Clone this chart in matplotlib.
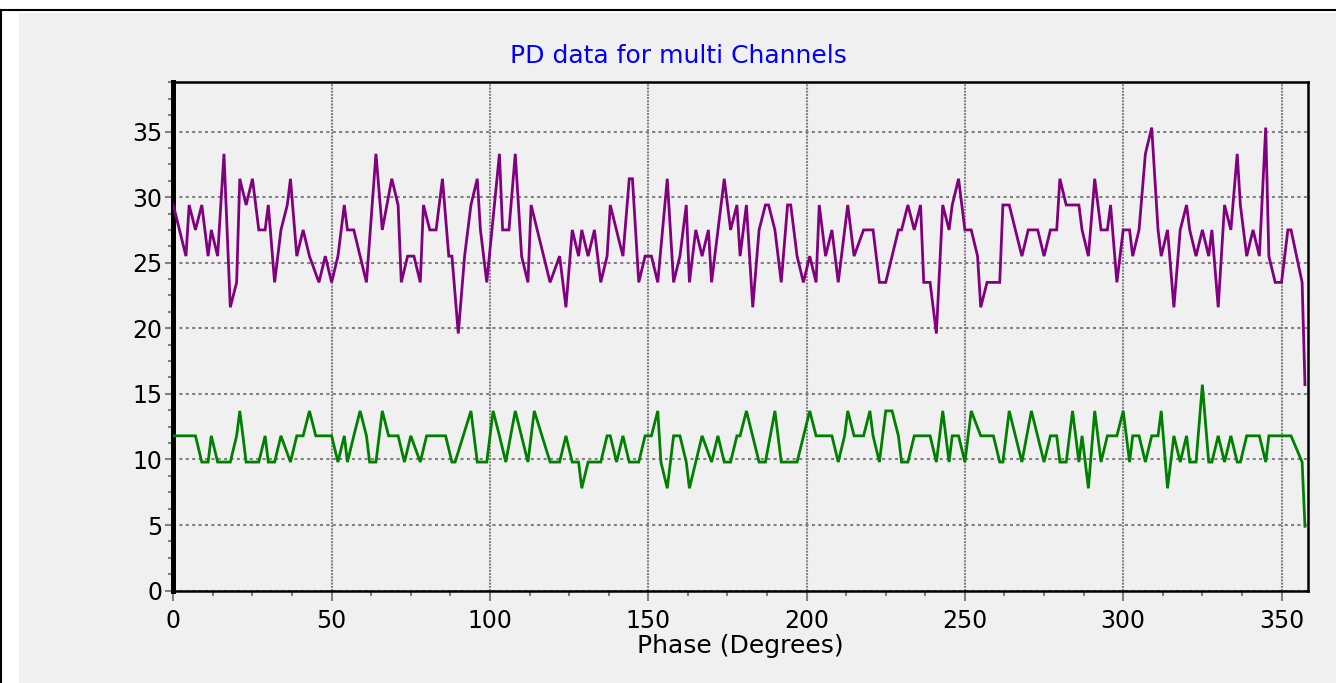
import matplotlib
matplotlib.use('Agg')
import matplotlib.pyplot as plt
from matplotlib.ticker import MultipleLocator
from matplotlib.lines import Line2D
from matplotlib.patches import Rectangle

plt.rcParams['font.family'] = ['DejaVu Sans']
plt.rcParams['lines.scale_dashes'] = False

# vertices of the two traces (phase in degrees, PD value)
phase_purple = [0, 4, 5, 7, 9, 11, 12, 14, 16, 18, 20, 21, 23, 25, 27, 29, 30, 32, 34, 36,
                37, 39, 41, 43, 46, 48, 50, 52, 54, 55, 57, 59, 61, 64, 66,
                69, 71, 72, 74, 76, 78, 79, 81, 83, 85, 87, 88, 90, 92, 94, 96, 97, 99, 103,
                104, 106, 108, 110, 112, 113, 119, 122, 124, 126, 128, 129, 131, 133, 135,
                137, 138, 142,
                144, 145, 147, 149, 151, 153, 156, 158, 160, 162, 163, 165, 167, 169, 170,
                174, 176, 178, 179, 181, 183, 185, 187, 188, 190, 192, 194, 195, 197, 199,
                201, 203, 204, 206, 208, 210, 213, 215,
                218, 219, 221, 223, 225, 229, 230, 232, 234, 236, 237, 239, 241, 243, 245,
                246, 248, 250, 252, 254, 255, 257, 261, 262, 264, 268, 270, 273, 275, 277,
                279, 280, 282, 286, 287,
                289, 291, 293, 295, 296, 298, 300, 302, 303, 305, 307, 309, 311, 312, 314,
                316, 318, 320, 321, 323, 325, 327, 328, 330, 332, 334, 336, 337, 339, 341,
                343, 345, 346, 348, 350, 352, 353, 356.5, 357.4]
pd_purple = [29.4, 25.5, 29.4, 27.5, 29.4, 25.5, 27.5, 25.5, 33.3, 21.6, 23.5, 31.4, 29.4, 31.4,
             27.5, 27.5, 29.4, 23.5, 27.5, 29.4, 31.4, 25.5, 27.5, 25.5, 23.5, 25.5, 23.5, 25.5,
             29.4, 27.5, 27.5, 25.5, 23.5, 33.3, 27.5,
             31.4, 29.4, 23.5, 25.5, 25.5, 23.5, 29.4, 27.5, 27.5, 31.4,
             25.5, 25.5, 19.6, 25.5, 29.4, 31.4, 27.5, 23.5, 33.3, 27.5,
             27.5, 33.3, 25.5, 23.5, 29.4, 23.5, 25.5, 21.6, 27.5, 25.5,
             27.5, 25.5, 27.5, 23.5, 25.5, 29.4, 25.5,
             31.4, 31.4, 23.5, 25.5, 25.5, 23.5, 31.4, 23.5, 25.5, 29.4,
             23.5, 27.5, 25.5, 27.5, 23.5, 31.4, 27.5, 29.4, 25.5, 29.4,
             21.6, 27.5, 29.4, 29.4, 27.5, 23.5, 29.4, 29.4, 25.5, 23.5,
             25.5, 23.5, 29.4, 25.5, 27.5, 23.5, 29.4, 25.5,
             27.5, 27.5, 27.5, 23.5, 23.5, 27.5, 27.5, 29.4, 27.5, 29.4,
             23.5, 23.5, 19.6, 29.4, 27.5, 29.4, 31.4, 27.5, 27.5, 25.5,
             21.6, 23.5, 23.5, 29.4, 29.4, 25.5, 27.5, 27.5, 25.5, 27.5,
             27.5, 31.4, 29.4, 29.4, 27.5,
             25.5, 31.4, 27.5, 27.5, 29.4, 23.5, 27.5, 27.5, 25.5, 27.5,
             33.3, 35.3, 27.5, 25.5, 27.5, 21.6, 27.5, 29.4, 27.5, 25.5,
             27.5, 25.5, 27.5, 21.6, 29.4, 27.5, 33.3, 29.4, 25.5, 27.5,
             25.5, 35.3, 25.5, 23.5, 23.5, 27.5, 27.5, 23.5, 15.7]

phase_green = [0, 7, 9, 11, 12, 14, 18, 20, 21, 23, 27, 29, 30, 32, 34, 37, 39, 41, 43, 45,
               50, 52, 54, 55, 57, 59, 61, 62, 64, 66, 68,
               71, 73, 75, 78, 80, 86, 88, 89, 94, 96, 99, 101, 103, 105, 108, 112, 114, 119,
               122, 124, 126, 128, 129, 131, 135, 137, 138, 140, 142,
               144, 147, 149, 151, 153, 154, 156, 158, 160, 162, 163, 167, 170, 172, 174,
               176, 178, 179, 181, 185, 187, 190, 192, 197, 201, 203, 208, 210, 212, 213, 215,
               218, 220, 221, 223, 225, 227, 229, 230, 232, 234, 239, 241, 243, 245, 246,
               248, 250, 252, 255, 259, 261, 262, 264, 268, 271, 275, 277, 279, 280, 282,
               284, 286, 287,
               289, 291, 293, 295, 298, 300, 302, 303, 305, 307, 309, 311, 312, 314, 316,
               318, 320, 321, 323, 325, 327, 328, 330, 332, 334, 336, 337, 339, 343, 345,
               346, 353, 356.5, 357.4]
pd_green = [11.8, 11.8, 9.8, 9.8, 11.8, 9.8, 9.8, 11.8, 13.7, 9.8,
            9.8, 11.8, 9.8, 9.8, 11.8, 9.8, 11.8, 11.8, 13.7, 11.8,
            11.8, 9.8, 11.8, 9.8, 11.8, 13.7, 11.8, 9.8, 9.8, 13.7, 11.8,
            11.8, 9.8, 11.8, 9.8, 11.8, 11.8, 9.8, 9.8, 13.7, 9.8,
            9.8, 13.7, 11.8, 9.8, 13.7, 9.8, 13.7, 9.8, 9.8, 11.8,
            9.8, 9.8, 7.8, 9.8, 9.8, 11.8, 11.8, 9.8, 11.8,
            9.8, 9.8, 11.8, 11.8, 13.7, 9.8, 7.8, 11.8, 11.8, 9.8,
            7.8, 11.8, 9.8, 11.8, 9.8, 9.8, 11.8, 11.8, 13.7, 9.8,
            9.8, 13.7, 9.8, 9.8, 13.7, 11.8, 11.8, 9.8, 11.8, 13.7, 11.8,
            11.8, 13.7, 11.8, 9.8, 13.7, 13.7, 11.8, 9.8, 9.8, 11.8,
            11.8, 9.8, 13.7, 9.8, 11.8, 11.8, 9.8, 13.7, 11.8, 11.8,
            9.8, 9.8, 13.7, 9.8, 13.7, 9.8, 11.8, 11.8, 9.8, 9.8,
            13.7, 9.8, 11.8,
            7.8, 13.7, 9.8, 11.8, 11.8, 13.7, 9.8, 11.8, 11.8, 9.8,
            11.8, 11.8, 13.7, 7.8, 11.8, 9.8, 11.8, 9.8, 9.8, 15.7,
            9.8, 9.8, 11.8, 9.8, 11.8, 9.8, 9.8, 11.8, 11.8, 9.8,
            11.8, 11.8, 9.8, 4.9]

x_ticks = [0, 50, 100, 150, 200, 250, 300, 350]
y_ticks = [0, 5, 10, 15, 20, 25, 30, 35]

W, H = 1336, 683
fig = plt.figure(figsize=(W / 100, H / 100), dpi=100)
fig.patch.set_facecolor('white')

# gray panel and the black frame lines at top / left
fig.add_artist(Rectangle((19 / W, 0), 1 - 19 / W, 1 - 12.7 / H, transform=fig.transFigure,
                         facecolor='#f0f0f0', edgecolor='none', zorder=0))
fig.add_artist(Line2D([0, 1], [1 - 10 / H, 1 - 10 / H], transform=fig.transFigure,
                      color='black', lw=1.5))
fig.add_artist(Line2D([1 / W, 1 / W], [0, 1 - 10 / H], transform=fig.transFigure,
                      color='black', lw=1.5))

ax = fig.add_axes([173.3 / W, 1 - 590.6 / H, (1307.5 - 173.3) / W, (590.6 - 81.7) / H])
ax.set_facecolor('#f0f0f0')

ax.plot(phase_purple, pd_purple, color='#800080', lw=2.0, solid_joinstyle='miter', zorder=3)
ax.plot(phase_green, pd_green, color='#008000', lw=2.0, solid_joinstyle='miter', zorder=3)

ax.set_xlim(0, 358.2)
ax.set_ylim(0, 38.8)
ax.set_xticks(x_ticks)
ax.set_yticks(y_ticks)
ax.xaxis.set_minor_locator(MultipleLocator(12.5))
ax.yaxis.set_minor_locator(MultipleLocator(1.25))

ax.set_axisbelow(True)
ax.xaxis.grid(True, which='major', color='#808080', lw=1.5, linestyle=(0, (1.4, 0.9)))
ax.yaxis.grid(True, which='major', color='#808080', lw=1.5, linestyle=(0, (2.2, 2.4)))

for side in ['top', 'right', 'bottom']:
    ax.spines[side].set_linewidth(1.8)
    ax.spines[side].set_color('black')
ax.spines['left'].set_linewidth(3.6)
ax.spines['left'].set_color('black')

ax.tick_params(axis='both', which='major', color='#808080', width=1.5, direction='out',
               labelsize=17, labelcolor='black')
ax.tick_params(axis='x', which='major', length=7, pad=6)
ax.tick_params(axis='y', which='major', length=6, pad=2)
ax.tick_params(axis='both', which='minor', color='#808080', width=1.5, length=3.5,
               direction='out')

ax.set_xlabel('Phase (Degrees)', fontsize=18, labelpad=1)
fig.text(678 / W, 1 - 56 / H, 'PD data for multi Channels', color='#0000ff', fontsize=18,
         ha='center', va='center')

fig.savefig('out.png', dpi=100)
